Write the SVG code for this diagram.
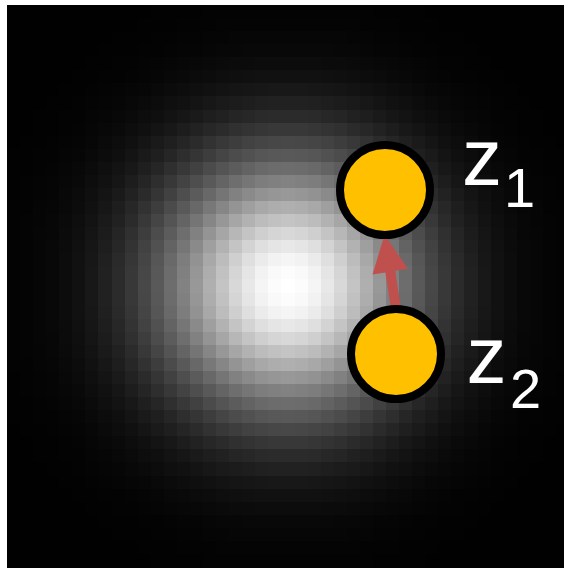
<svg xmlns="http://www.w3.org/2000/svg" width="564" height="568" viewBox="0 0 564 568">
<style>
.col{shape-rendering:crispEdges}
.node-fill{fill:#FFC000;stroke:#000;stroke-width:8}
.lbl{font-family:"Liberation Sans",Arial,sans-serif;fill:#fff}
.big{font-size:80px}
.sub{font-size:56px}
</style>
<rect x="0" y="0" width="564" height="568" fill="#fff"/>
<g id="blob" style="isolation:isolate" shape-rendering="crispEdges">
<g id="cols">
<rect x="7" y="5" width="13.1" height="563" fill="#030303"/>
<rect x="20.07" y="5" width="13.1" height="563" fill="#040404"/>
<rect x="33.14" y="5" width="13.1" height="563" fill="#060606"/>
<rect x="46.21" y="5" width="13.1" height="563" fill="#080808"/>
<rect x="59.28" y="5" width="13.1" height="563" fill="#0c0c0c"/>
<rect x="72.35" y="5" width="13.1" height="563" fill="#111111"/>
<rect x="85.42" y="5" width="13.1" height="563" fill="#181818"/>
<rect x="98.49" y="5" width="13.1" height="563" fill="#212121"/>
<rect x="111.56" y="5" width="13.1" height="563" fill="#2b2b2b"/>
<rect x="124.63" y="5" width="13.1" height="563" fill="#383838"/>
<rect x="137.7" y="5" width="13.1" height="563" fill="#484848"/>
<rect x="150.77" y="5" width="13.1" height="563" fill="#595959"/>
<rect x="163.84" y="5" width="13.1" height="563" fill="#6d6d6d"/>
<rect x="176.91" y="5" width="13.1" height="563" fill="#828282"/>
<rect x="189.98" y="5" width="13.1" height="563" fill="#989898"/>
<rect x="203.05" y="5" width="13.1" height="563" fill="#afafaf"/>
<rect x="216.12" y="5" width="13.1" height="563" fill="#c4c4c4"/>
<rect x="229.19" y="5" width="13.1" height="563" fill="#d8d8d8"/>
<rect x="242.26" y="5" width="13.1" height="563" fill="#e8e8e8"/>
<rect x="255.33" y="5" width="13.1" height="563" fill="#f5f5f5"/>
<rect x="268.4" y="5" width="13.1" height="563" fill="#fcfcfc"/>
<rect x="281.47" y="5" width="13.1" height="563" fill="#ffffff"/>
<rect x="294.54" y="5" width="13.1" height="563" fill="#fcfcfc"/>
<rect x="307.61" y="5" width="13.1" height="563" fill="#f5f5f5"/>
<rect x="320.68" y="5" width="13.1" height="563" fill="#e8e8e8"/>
<rect x="333.75" y="5" width="13.1" height="563" fill="#d8d8d8"/>
<rect x="346.82" y="5" width="13.1" height="563" fill="#c4c4c4"/>
<rect x="359.89" y="5" width="13.1" height="563" fill="#afafaf"/>
<rect x="372.96" y="5" width="13.1" height="563" fill="#989898"/>
<rect x="386.03" y="5" width="13.1" height="563" fill="#828282"/>
<rect x="399.1" y="5" width="13.1" height="563" fill="#6d6d6d"/>
<rect x="412.17" y="5" width="13.1" height="563" fill="#595959"/>
<rect x="425.24" y="5" width="13.1" height="563" fill="#484848"/>
<rect x="438.31" y="5" width="13.1" height="563" fill="#383838"/>
<rect x="451.38" y="5" width="13.1" height="563" fill="#2b2b2b"/>
<rect x="464.45" y="5" width="13.1" height="563" fill="#212121"/>
<rect x="477.52" y="5" width="13.1" height="563" fill="#181818"/>
<rect x="490.59" y="5" width="13.1" height="563" fill="#111111"/>
<rect x="503.66" y="5" width="13.1" height="563" fill="#0c0c0c"/>
<rect x="516.73" y="5" width="13.1" height="563" fill="#080808"/>
<rect x="529.8" y="5" width="13.1" height="563" fill="#060606"/>
<rect x="542.87" y="5" width="13.1" height="563" fill="#040404"/>
<rect x="555.94" y="5" width="13.1" height="563" fill="#030303"/>
</g>
<g id="rows" style="mix-blend-mode:multiply">
<rect x="7" y="5" width="557" height="13.1" fill="#030303"/>
<rect x="7" y="18.07" width="557" height="13.1" fill="#040404"/>
<rect x="7" y="31.14" width="557" height="13.1" fill="#060606"/>
<rect x="7" y="44.21" width="557" height="13.1" fill="#080808"/>
<rect x="7" y="57.28" width="557" height="13.1" fill="#0c0c0c"/>
<rect x="7" y="70.35" width="557" height="13.1" fill="#111111"/>
<rect x="7" y="83.42" width="557" height="13.1" fill="#181818"/>
<rect x="7" y="96.49" width="557" height="13.1" fill="#212121"/>
<rect x="7" y="109.56" width="557" height="13.1" fill="#2b2b2b"/>
<rect x="7" y="122.63" width="557" height="13.1" fill="#383838"/>
<rect x="7" y="135.7" width="557" height="13.1" fill="#484848"/>
<rect x="7" y="148.77" width="557" height="13.1" fill="#595959"/>
<rect x="7" y="161.84" width="557" height="13.1" fill="#6d6d6d"/>
<rect x="7" y="174.91" width="557" height="13.1" fill="#828282"/>
<rect x="7" y="187.98" width="557" height="13.1" fill="#989898"/>
<rect x="7" y="201.05" width="557" height="13.1" fill="#afafaf"/>
<rect x="7" y="214.12" width="557" height="13.1" fill="#c4c4c4"/>
<rect x="7" y="227.19" width="557" height="13.1" fill="#d8d8d8"/>
<rect x="7" y="240.26" width="557" height="13.1" fill="#e8e8e8"/>
<rect x="7" y="253.33" width="557" height="13.1" fill="#f5f5f5"/>
<rect x="7" y="266.4" width="557" height="13.1" fill="#fcfcfc"/>
<rect x="7" y="279.47" width="557" height="13.1" fill="#ffffff"/>
<rect x="7" y="292.54" width="557" height="13.1" fill="#fcfcfc"/>
<rect x="7" y="305.61" width="557" height="13.1" fill="#f5f5f5"/>
<rect x="7" y="318.68" width="557" height="13.1" fill="#e8e8e8"/>
<rect x="7" y="331.75" width="557" height="13.1" fill="#d8d8d8"/>
<rect x="7" y="344.82" width="557" height="13.1" fill="#c4c4c4"/>
<rect x="7" y="357.89" width="557" height="13.1" fill="#afafaf"/>
<rect x="7" y="370.96" width="557" height="13.1" fill="#989898"/>
<rect x="7" y="384.03" width="557" height="13.1" fill="#828282"/>
<rect x="7" y="397.1" width="557" height="13.1" fill="#6d6d6d"/>
<rect x="7" y="410.17" width="557" height="13.1" fill="#595959"/>
<rect x="7" y="423.24" width="557" height="13.1" fill="#484848"/>
<rect x="7" y="436.31" width="557" height="13.1" fill="#383838"/>
<rect x="7" y="449.38" width="557" height="13.1" fill="#2b2b2b"/>
<rect x="7" y="462.45" width="557" height="13.1" fill="#212121"/>
<rect x="7" y="475.52" width="557" height="13.1" fill="#181818"/>
<rect x="7" y="488.59" width="557" height="13.1" fill="#111111"/>
<rect x="7" y="501.66" width="557" height="13.1" fill="#0c0c0c"/>
<rect x="7" y="514.73" width="557" height="13.1" fill="#080808"/>
<rect x="7" y="527.8" width="557" height="13.1" fill="#060606"/>
<rect x="7" y="540.87" width="557" height="13.1" fill="#040404"/>
<rect x="7" y="553.94" width="557" height="14.1" fill="#030303"/>
</g>
</g>
<g id="connectors">
<polygon points="392.1,315.8 385.4,272.4 372.5,274.4 384.5,235 408.1,268.8 395.2,270.8 401.9,314.2" fill="#C0504D"/>
</g>
<g id="z1">
<circle class="node-fill" cx="385" cy="190" r="45"/>
<text class="lbl big" x="462" y="185">z</text>
<text class="lbl sub" x="504" y="207">1</text>
</g>
<g id="z2">
<circle class="node-fill" cx="396" cy="354" r="45"/>
<text class="lbl big" x="466.5" y="383">z</text>
<text class="lbl sub" x="510" y="408">2</text>
</g>
</svg>
